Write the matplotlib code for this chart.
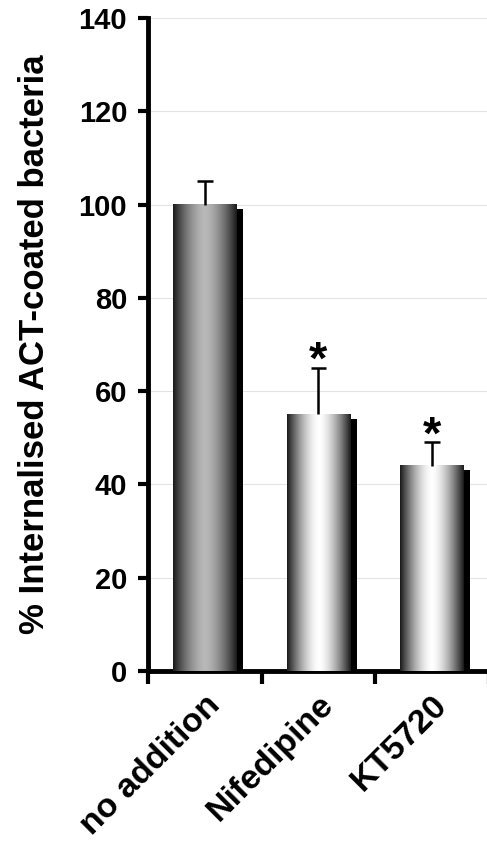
import numpy as np
import matplotlib.pyplot as plt
from matplotlib.patches import Rectangle
from matplotlib.transforms import blended_transform_factory

plt.rcParams['font.family'] = ['Liberation Sans', 'DejaVu Sans']
plt.rcParams['font.weight'] = 'bold'

# data
categories = ['no addition', 'Nifedipine', 'KT5720']
values = [100, 55, 44]
errors = [5, 10, 5]
significant = [False, True, True]
centre_light = [0.72, 1.0, 1.0]  # brightness at bar centre

fig = plt.figure(figsize=(4.87, 8.5), dpi=100)
ax = fig.add_axes([0.304, 0.2106, 0.70, 0.7682])

x = np.arange(len(categories))
width = 0.56
cap = 0.07

for xi, v, light in zip(x, values, centre_light):
    # shadow behind the bar
    ax.add_patch(Rectangle((xi - width / 2 + 0.055, 0), width, v - 0.9,
                           facecolor='black', edgecolor='none', zorder=2))
    # gradient bar
    t = np.linspace(-1, 1, 200)
    g = 0.1 + (light - 0.1) * (1 - np.abs(t) ** 1.6)
    img = np.tile(g, (2, 1))
    ax.imshow(img, cmap='gray', vmin=0, vmax=1, aspect='auto',
              extent=(xi - width / 2, xi + width / 2, 0, v),
              interpolation='bilinear', zorder=3)

# upper error bars only
tops = np.array(values) + np.array(errors)
ax.vlines(x, values, tops, color='black', linewidth=1.8, zorder=4)
ax.hlines(tops, x - cap, x + cap, color='black', linewidth=1.8, zorder=4)

for xi, top, s in zip(x, tops, significant):
    if s:
        ax.text(xi, top - 3.5, '*', ha='center', va='bottom',
                fontsize=34, fontweight='bold', zorder=5)

ax.set_xlim(-0.5, 2.5)
ax.set_ylim(0, 140)
ax.set_yticks(np.arange(0, 141, 20))
ax.yaxis.grid(True, color='#e4e4e4', linewidth=0.8)
ax.set_axisbelow(True)

ax.set_xticks([-0.5, 0.5, 1.5, 2.5])
ax.set_xticklabels([])
ax.tick_params(axis='x', which='major', direction='out', length=9, width=3)
ax.tick_params(axis='y', direction='out', length=7, width=3, labelsize=21, pad=8)
for lab in ax.get_yticklabels():
    lab.set_fontweight('bold')

# rotated category labels
trans = blended_transform_factory(ax.transData, ax.transAxes)
for xi, name in zip(x, categories):
    ax.text(xi + 0.09, -0.045, name, transform=trans, rotation=45,
            rotation_mode='anchor', ha='right', va='center',
            fontsize=24.5, fontweight='bold', clip_on=False)

for side in ['top', 'right']:
    ax.spines[side].set_visible(False)
for side in ['left', 'bottom']:
    ax.spines[side].set_linewidth(3.5)

ax.set_ylabel('% Internalised ACT-coated bacteria', fontsize=25,
              fontweight='bold', labelpad=20)

fig.savefig('out.png', dpi=100)
